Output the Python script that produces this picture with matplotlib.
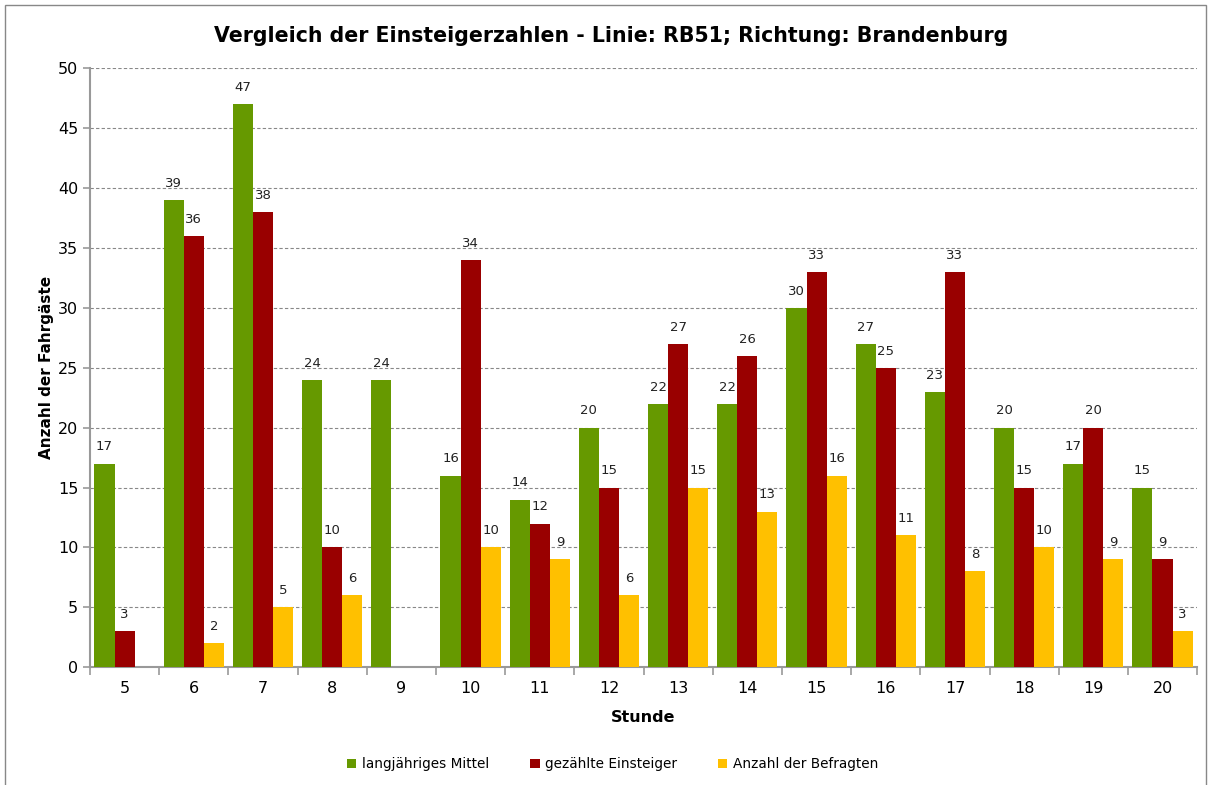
import matplotlib.pyplot as plt
from matplotlib.patches import Rectangle
import numpy as np

#%% Data
stunden = [5, 6, 7, 8, 9, 10, 11, 12, 13, 14, 15, 16, 17, 18, 19, 20]
mittel = [17, 39, 47, 24, 24, 16, 14, 20, 22, 22, 30, 27, 23, 20, 17, 15]
gezaehlt = [3, 36, 38, 10, np.nan, 34, 12, 15, 27, 26, 33, 25, 33, 15, 20, 9]
befragte = [np.nan, 2, 5, 6, np.nan, 10, 9, 6, 15, 13, 16, 11, 8, 10, 9, 3]

series = [
    ("langjähriges Mittel", mittel, "#669900"),
    ("gezählte Einsteiger", gezaehlt, "#990000"),
    ("Anzahl der Befragten", befragte, "#FFC000"),
]

#%% Plot
plt.rcParams['font.family'] = ['DejaVu Sans']
fig = plt.figure(figsize=(12.08, 7.85), dpi=100)
ax = fig.add_axes([0.0745, 0.150, 0.9165, 0.763])

# chart frame
fig.patches.append(Rectangle((0.004, -0.01), 0.994, 1.003, transform=fig.transFigure,
                             fill=False, edgecolor="#888888", linewidth=1.0))

x = np.arange(len(stunden))
w = 0.29
for i, (name, vals, col) in enumerate(series):
    vals = np.array(vals, dtype=float)
    pos = x + (i - 1) * w
    ax.bar(pos, vals, width=w, color=col, label=name, zorder=3)
    for p, v in zip(pos, vals):
        if not np.isnan(v):
            ax.text(p, v + 0.85, f"{int(v)}", ha="center", va="bottom",
                    fontsize=9.5, color="#222222")

ax.set_xlim(-0.5, len(stunden) - 0.5)
ax.set_ylim(0, 50)
ax.set_yticks(np.arange(0, 51, 5))
ax.set_xticks(x)
ax.set_xticklabels([str(s) for s in stunden], fontsize=11.5)
ax.set_xticks(np.arange(-0.5, len(stunden), 1), minor=True)
ax.tick_params(axis="x", which="major", length=0, pad=10)
ax.tick_params(axis="x", which="minor", length=6, color="#999999", width=1.2)
ax.tick_params(axis="y", length=5, color="#999999", width=1.2, labelsize=11.5)

ax.yaxis.grid(True, linestyle=(0, (3, 2)), color="#888888", linewidth=0.8, zorder=0)
ax.set_axisbelow(True)
for s in ["top", "right"]:
    ax.spines[s].set_visible(False)
for s in ["left", "bottom"]:
    ax.spines[s].set_color("#999999")
    ax.spines[s].set_linewidth(1.5)

ax.set_title("Vergleich der Einsteigerzahlen - Linie: RB51; Richtung: Brandenburg",
             fontsize=14.8, fontweight="bold", pad=19, x=0.471)
ax.set_xlabel("Stunde", fontsize=11.5, fontweight="bold", labelpad=10)
ax.set_ylabel("Anzahl der Fahrgäste", fontsize=11, fontweight="bold", labelpad=3)

ax.legend(loc="upper center", bbox_to_anchor=(0.472, -0.13), ncol=3, frameon=False,
          fontsize=9.8, handlelength=0.7, handleheight=0.7, columnspacing=3,
          handletextpad=0.4)

fig.savefig("out.png", dpi=100)
